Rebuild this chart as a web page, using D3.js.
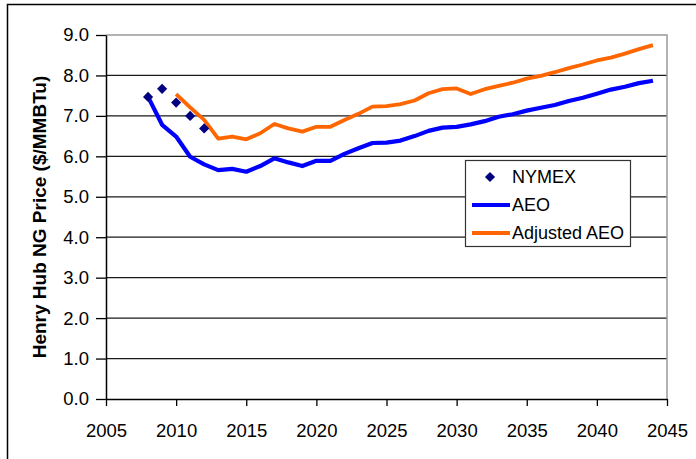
<!DOCTYPE html>
<html>
<head>
<meta charset="utf-8">
<script src="https://cdn.jsdelivr.net/npm/d3@7"></script>
<style>
  body { margin: 0; background: #fff; }
  svg { display: block; font-family: "Liberation Sans", Arial, sans-serif; }
</style>
</head>
<body>
<div id="chart"></div>
<script>
// data
const nymexYears = [2008, 2009, 2010, 2011, 2012];
const nymexValues = [7.47, 7.67, 7.33, 7.00, 6.69];

const aeoYears = d3.range(2008, 2045);
const aeoValues = [7.47, 6.78, 6.49, 5.99, 5.80, 5.66, 5.69, 5.62, 5.76, 5.95,
  5.85, 5.76, 5.89, 5.89, 6.06, 6.20, 6.33, 6.34, 6.39, 6.50,
  6.63, 6.71, 6.73, 6.79, 6.87, 6.98, 7.04, 7.13, 7.20, 7.27,
  7.37, 7.45, 7.55, 7.65, 7.72, 7.81, 7.87];

const adjYears = d3.range(2010, 2045);
const adjValues = [7.54, 7.21, 6.90, 6.44, 6.49, 6.42, 6.57, 6.80, 6.69, 6.61,
  6.73, 6.73, 6.90, 7.05, 7.23, 7.24, 7.29, 7.38, 7.56, 7.66,
  7.68, 7.54, 7.66, 7.74, 7.82, 7.92, 7.99, 8.08, 8.18, 8.27,
  8.37, 8.44, 8.54, 8.65, 8.75];

const xTicks = [2005, 2010, 2015, 2020, 2025, 2030, 2035, 2040, 2045];
const yTicks = [0, 1, 2, 3, 4, 5, 6, 7, 8, 9];

const W = 696, H = 459;
const svg = d3.select('#chart').append('svg')
  .attr('width', W).attr('height', H);

// outer chart frame
svg.append('rect')
  .attr('x', 7.5).attr('y', 4.5)
  .attr('width', W + 10).attr('height', H + 10)
  .attr('fill', 'none').attr('stroke', '#000').attr('stroke-width', 1.5);

const x = d3.scaleLinear().domain([2005, 2045]).range([106, 667]);
const y = d3.scaleLinear().domain([0, 9]).range([399, 35]);

// gridlines
svg.append('g').selectAll('line')
  .data(yTicks.filter(d => d > 0 && d < 9))
  .join('line')
  .attr('x1', x(2005)).attr('x2', x(2045))
  .attr('y1', d => y(d)).attr('y2', d => y(d))
  .attr('stroke', '#1a1a1a').attr('stroke-width', 1.3);

// plot border top and right (grey)
svg.append('path')
  .attr('d', `M${x(2005)},${y(9)}H${x(2045)}V${y(0)}`)
  .attr('fill', 'none').attr('stroke', '#9a9a9a').attr('stroke-width', 1.5);

// axes
const yAxis = svg.append('g')
  .attr('transform', `translate(${x(2005)},0)`)
  .call(d3.axisLeft(y).tickValues(yTicks).tickFormat(d3.format('.1f'))
    .tickSize(10).tickSizeOuter(0).tickPadding(7));

const xAxis = svg.append('g')
  .attr('transform', `translate(0,${y(0)})`)
  .call(d3.axisBottom(x).tickValues(xTicks).tickFormat(d3.format('d'))
    .tickSize(7).tickSizeOuter(0).tickPadding(17.5));

[yAxis, xAxis].forEach(a => {
  a.select('.domain').attr('stroke', '#000').attr('stroke-width', 1.5);
  a.selectAll('.tick line').attr('stroke', '#000').attr('stroke-width', 1.3);
  a.selectAll('.tick text')
    .attr('fill', '#000')
    .style('font-size', '18.5px')
    .style('font-family', '"Liberation Sans", Arial, sans-serif');
});

// y axis title
svg.append('text')
  .attr('transform', `translate(46,${(y(0) + y(9)) / 2}) rotate(-90)`)
  .attr('text-anchor', 'middle')
  .style('font-size', '19px').style('font-weight', 'bold')
  .text('Henry Hub NG Price ($/MMBTu)');

// lines
const line = d3.line().x(d => x(d[0])).y(d => y(d[1]));

svg.append('path')
  .datum(d3.zip(aeoYears, aeoValues))
  .attr('d', line)
  .attr('fill', 'none').attr('stroke', '#0000ff')
  .attr('stroke-width', 4.2).attr('stroke-linejoin', 'round');

svg.append('path')
  .datum(d3.zip(adjYears, adjValues))
  .attr('d', line)
  .attr('fill', 'none').attr('stroke', '#ff6600')
  .attr('stroke-width', 3.8).attr('stroke-linejoin', 'round');

const diamond = d3.symbol().type(d3.symbolDiamond2).size(66);
svg.append('g').selectAll('path')
  .data(d3.zip(nymexYears, nymexValues))
  .join('path')
  .attr('d', diamond)
  .attr('transform', d => `translate(${x(d[0])},${y(d[1])})`)
  .attr('fill', '#000080');

// legend
const lg = svg.append('g').attr('transform', 'translate(465,160)');
lg.append('rect')
  .attr('x', 0.5).attr('y', 0.5).attr('width', 165).attr('height', 86)
  .attr('fill', '#fff').attr('stroke', '#333').attr('stroke-width', 1.2);

const legendItems = [
  { name: 'NYMEX', type: 'marker', color: '#000080' },
  { name: 'AEO', type: 'line', color: '#0000ff' },
  { name: 'Adjusted AEO', type: 'line', color: '#ff6600' }
];
legendItems.forEach((d, i) => {
  const cy = 17 + i * 28;
  if (d.type === 'marker') {
    lg.append('path').attr('d', diamond)
      .attr('transform', `translate(25,${cy})`).attr('fill', d.color);
  } else {
    lg.append('line')
      .attr('x1', 7).attr('x2', 45).attr('y1', cy).attr('y2', cy)
      .attr('stroke', d.color).attr('stroke-width', 4);
  }
  lg.append('text')
    .attr('x', 47).attr('y', cy + 6)
    .style('font-size', '18px')
    .text(d.name);
});
</script>
</body>
</html>
